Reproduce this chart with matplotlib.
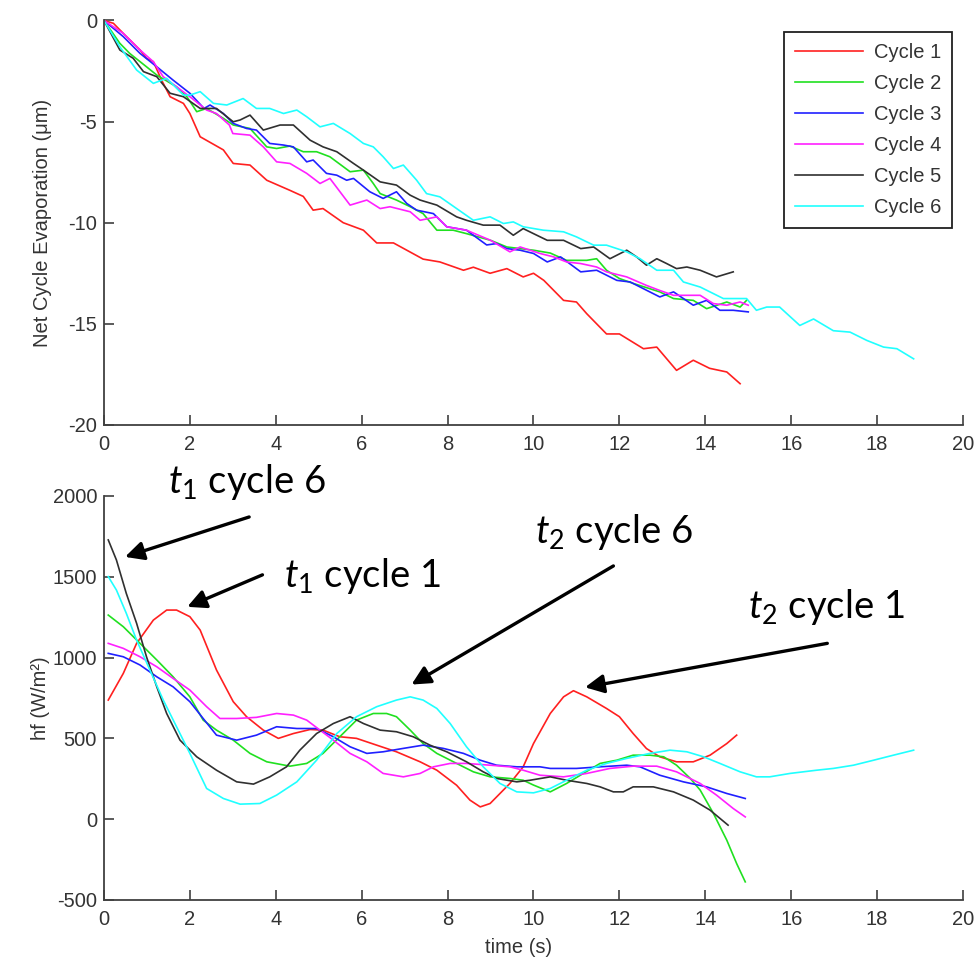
"""Net cycle evaporation and heat flux for six cycles (two stacked panels)."""

import matplotlib

matplotlib.use("Agg")
import matplotlib.pyplot as plt

plt.rcParams["font.family"] = ["Liberation Sans", "DejaVu Sans"]
plt.rcParams["axes.unicode_minus"] = False
plt.rcParams["mathtext.fontset"] = "custom"
plt.rcParams["mathtext.rm"] = "Lato"
plt.rcParams["mathtext.it"] = "Lato:italic"

labels = ["Cycle 1", "Cycle 2", "Cycle 3", "Cycle 4", "Cycle 5", "Cycle 6"]
colors = ["#ff2020", "#20e020", "#2020ff", "#ff20ff", "#303030", "#20ffff"]

# --- top panel: net cycle evaporation (um) vs time (s) ---
t_evap_c1 = [0, 0.22, 0.45, 0.84, 0.99, 1.15, 1.34, 1.54, 1.85, 2.0, 2.24, 2.78, 3.01, 3.4, 3.79,
             4.33, 4.64, 4.87, 5.1, 5.57, 6.04, 6.35, 6.74, 7.43, 7.82, 8.37, 8.6, 8.99, 9.38,
             9.76, 10.0, 10.24, 10.7, 11.0, 11.24, 11.7, 12.0, 12.56, 12.87, 13.33, 13.72,
             14.1, 14.5, 14.81]
evap_c1 = [0, -0.14, -0.64, -1.46, -1.87, -2.04, -2.94, -3.77, -4.1, -4.6, -5.75, -6.4, -7.07,
           -7.15, -7.9, -8.4, -8.7, -9.38, -9.3, -10.0, -10.37, -11.0, -11.0, -11.8, -11.94,
           -12.35, -12.2, -12.5, -12.27, -12.68, -12.5, -12.85, -13.84, -13.92, -14.5, -15.5,
           -15.5, -16.23, -16.15, -17.3, -16.8, -17.2, -17.38, -17.96]

t_evap_c2 = [0, 0.37, 0.6, 0.99, 1.23, 1.69, 1.93, 2.16, 2.39, 2.78, 3.01, 3.4, 3.79, 4.02, 4.33,
             4.64, 4.95, 5.26, 5.73, 6.04, 6.27, 6.43, 6.81, 7.13, 7.43, 7.75, 8.13, 8.44, 9.0,
             9.38, 9.69, 10.0, 10.39, 10.77, 11.24, 11.47, 11.7, 12.0, 12.32, 12.94, 13.26,
             13.72, 14.03, 14.5, 14.81, 14.96]
evap_c2 = [0, -1.13, -1.63, -2.29, -2.7, -3.28, -3.77, -4.51, -4.35, -4.84, -5.17, -5.34, -6.25,
           -6.33, -6.21, -6.49, -6.49, -6.74, -7.48, -7.4, -8.06, -8.56, -8.88, -9.21, -9.55,
           -10.37, -10.37, -10.54, -10.87, -11.2, -11.28, -11.36, -11.5, -11.86, -11.86,
           -11.78, -12.35, -12.76, -13.0, -13.42, -13.75, -13.84, -14.25, -13.92, -14.17, -13.84]

t_evap_c3 = [0, 0.45, 0.84, 1.23, 1.61, 2.0, 2.33, 2.47, 2.78, 3.01, 3.32, 3.55, 3.86, 4.18, 4.41,
             4.72, 4.87, 5.18, 5.42, 5.65, 5.81, 6.19, 6.5, 6.81, 7.05, 7.28, 7.67, 7.98, 8.44,
             8.91, 9.14, 9.38, 9.69, 10.0, 10.32, 10.63, 11.1, 11.47, 11.94, 12.25, 12.94, 13.26,
             13.72, 14.03, 14.34, 14.65, 15.0]
evap_c3 = [0, -0.8, -1.63, -2.29, -2.95, -3.6, -4.35, -4.18, -4.6, -5.09, -5.34, -5.42, -6.08,
           -6.16, -6.25, -6.99, -6.9, -7.56, -7.65, -7.9, -7.81, -8.47, -8.8, -8.47, -9.05,
           -9.38, -9.55, -10.2, -10.37, -11.1, -11.03, -11.28, -11.36, -11.52, -11.94, -11.69,
           -12.43, -12.35, -12.85, -12.93, -13.67, -13.42, -14.08, -13.84, -14.33, -14.33, -14.41]

t_evap_c4 = [0, 0.45, 0.84, 1.15, 1.38, 1.69, 2.0, 2.39, 2.62, 2.92, 3.0, 3.4, 3.71, 4.02, 4.33,
             4.72, 5.03, 5.26, 5.73, 6.12, 6.43, 6.66, 7.13, 7.36, 7.75, 7.98, 8.44, 9.0, 9.45,
             9.69, 10.15, 10.47, 10.77, 11.1, 11.47, 11.7, 12.17, 12.63, 12.94, 13.26, 13.57,
             13.88, 14.19, 14.5, 14.81, 15.0]
evap_c4 = [0, -0.64, -1.46, -2.04, -2.78, -3.28, -3.77, -4.43, -4.6, -5.17, -5.59, -5.67, -6.25,
           -6.99, -7.07, -7.56, -8.06, -7.81, -9.13, -8.88, -9.3, -9.21, -9.46, -9.88, -9.71,
           -10.2, -10.37, -10.87, -11.44, -11.2, -11.52, -11.69, -11.94, -12.02, -12.19, -12.43,
           -12.68, -13.1, -13.35, -13.59, -13.59, -13.59, -14.0, -14.08, -13.92, -14.08]

t_evap_c5 = [0, 0.37, 0.68, 0.92, 1.23, 1.54, 1.85, 2.24, 2.62, 3.01, 3.17, 3.4, 3.71, 4.1, 4.41,
             4.8, 5.1, 5.42, 5.81, 6.04, 6.43, 6.81, 7.13, 7.36, 7.75, 8.21, 8.44, 8.83, 9.22,
             9.53, 9.76, 10.0, 10.32, 10.7, 11.1, 11.4, 11.78, 12.17, 12.4, 12.63, 12.87, 13.1,
             13.33, 13.57, 13.88, 14.26, 14.65]
evap_c5 = [0, -1.46, -1.87, -2.53, -2.78, -3.6, -3.77, -4.35, -4.35, -5.01, -4.92, -4.68, -5.42,
           -5.17, -5.17, -5.92, -6.25, -6.49, -7.07, -7.4, -7.98, -8.14, -8.64, -8.88, -9.13,
           -9.71, -9.88, -10.12, -10.12, -10.62, -10.29, -10.54, -10.87, -10.87, -11.28, -11.2,
           -11.78, -11.36, -11.69, -12.1, -11.78, -12.02, -12.27, -12.19, -12.35, -12.68, -12.43]

t_evap_c6 = [0, 0.37, 0.76, 1.15, 1.46, 1.85, 2.0, 2.24, 2.55, 2.86, 3.24, 3.55, 3.86, 4.18, 4.49,
             4.72, 5.03, 5.34, 5.73, 6.04, 6.27, 6.5, 6.74, 6.97, 7.28, 7.51, 7.82, 8.21, 8.6,
             8.99, 9.3, 9.53, 9.76, 10.23, 10.7, 11.0, 11.4, 11.7, 12.17, 12.48, 12.87, 13.26,
             13.49, 13.88, 14.42, 14.96, 15.19, 15.43, 15.73, 16.2, 16.52, 16.98, 17.37, 17.76,
             18.15, 18.46, 18.85]
evap_c6 = [0, -1.3, -2.45, -3.11, -2.86, -3.69, -3.69, -3.52, -4.1, -4.18, -3.86, -4.35, -4.35,
           -4.6, -4.43, -4.76, -5.26, -5.09, -5.59, -6.08, -6.25, -6.74, -7.32, -7.15, -7.9,
           -8.56, -8.72, -9.3, -9.88, -9.71, -10.04, -9.96, -10.2, -10.37, -10.45, -10.7,
           -11.11, -11.11, -11.44, -11.78, -12.35, -12.35, -12.93, -13.18, -13.75, -13.75,
           -14.33, -14.17, -14.17, -15.08, -14.76, -15.34, -15.41, -15.82, -16.15, -16.23, -16.73]

# --- bottom panel: heat flux hf (W/m2) vs time (s) ---
t_hf_c1 = [0.1, 0.45, 0.76, 1.15, 1.46, 1.69, 2.0, 2.24, 2.62, 3.01, 3.32, 3.71, 4.06, 4.41, 4.8,
           5.1, 5.49, 5.88, 6.35, 6.81, 7.36, 7.75, 8.21, 8.52, 8.76, 8.99, 9.45, 9.76, 10.0,
           10.39, 10.7, 10.93, 11.24, 11.7, 12.0, 12.32, 12.63, 12.94, 13.33, 13.72, 14.11,
           14.5, 14.73]
hf_c1 = [737, 902, 1088, 1232, 1294, 1294, 1253, 1170, 923, 727, 634, 551, 500, 530, 555, 551,
         510, 500, 458, 417, 355, 303, 210, 118, 76, 97, 221, 324, 468, 654, 757, 795, 757, 685,
         634, 530, 437, 386, 355, 355, 396, 468, 520]

t_hf_c2 = [0.1, 0.45, 0.84, 1.23, 1.61, 2.0, 2.31, 2.62, 3.01, 3.4, 3.79, 4.33, 4.72, 5.1, 5.49,
           5.88, 6.27, 6.58, 6.81, 7.13, 7.43, 7.75, 8.21, 8.6, 8.99, 9.45, 9.76, 10.0, 10.39,
           10.77, 11.16, 11.55, 11.94, 12.32, 12.71, 13.03, 13.33, 13.65, 13.88, 14.19, 14.5,
           14.73, 14.93]
hf_c2 = [1263, 1191, 1088, 985, 881, 757, 613, 551, 489, 407, 355, 328, 345, 407, 510, 613, 654,
         654, 634, 551, 468, 407, 345, 293, 262, 252, 241, 211, 169, 221, 283, 345, 365, 396,
         396, 386, 334, 252, 180, 35, -130, -275, -388]

t_hf_c3 = [0.1, 0.45, 0.84, 1.23, 1.61, 2.0, 2.31, 2.62, 3.09, 3.55, 4.02, 4.49, 4.95, 5.34, 5.73,
           6.12, 6.5, 6.97, 7.43, 7.9, 8.37, 8.76, 9.14, 9.61, 10.15, 10.39, 11.0, 11.55, 12.17,
           12.48, 12.94, 13.49, 14.03, 14.5, 14.93]
hf_c3 = [1026, 1005, 954, 881, 819, 727, 623, 520, 489, 520, 572, 561, 561, 510, 448, 407, 417,
         438, 458, 438, 407, 365, 334, 324, 324, 314, 314, 324, 334, 324, 272, 231, 200, 159, 128]

t_hf_c4 = [0.1, 0.45, 0.84, 1.23, 1.61, 2.0, 2.39, 2.7, 3.09, 3.55, 4.02, 4.41, 4.72, 5.03, 5.34,
           5.73, 6.12, 6.5, 6.97, 7.36, 7.67, 8.06, 8.44, 8.99, 9.45, 9.76, 10.15, 10.7, 11.24,
           11.78, 12.32, 12.87, 13.33, 13.88, 14.26, 14.65, 14.93]
hf_c4 = [1088, 1057, 1005, 943, 871, 799, 696, 623, 623, 630, 654, 644, 613, 551, 489, 407, 355,
         283, 262, 283, 324, 345, 345, 334, 324, 303, 272, 262, 283, 314, 328, 328, 293, 221,
         149, 66, 14]

t_hf_c5 = [0.1, 0.29, 0.52, 0.76, 0.99, 1.23, 1.46, 1.77, 2.16, 2.62, 3.09, 3.48, 3.86, 4.25, 4.56,
           4.95, 5.34, 5.73, 6.04, 6.43, 6.81, 7.2, 7.59, 7.98, 8.44, 8.83, 9.14, 9.61, 9.92,
           10.39, 10.77, 11.24, 11.55, 11.86, 12.09, 12.32, 12.79, 13.26, 13.72, 14.11, 14.53]
hf_c5 = [1728, 1604, 1397, 1212, 1005, 819, 654, 489, 386, 303, 231, 217, 262, 324, 427, 530, 592,
         634, 592, 551, 541, 510, 458, 417, 355, 293, 252, 231, 241, 262, 241, 221, 200, 169,
         169, 200, 200, 169, 118, 56, -37]

t_hf_c6 = [0.1, 0.29, 0.52, 0.76, 1.07, 1.38, 1.69, 2.0, 2.39, 2.78, 3.17, 3.63, 4.02, 4.49, 4.95,
           5.42, 5.88, 6.35, 6.81, 7.13, 7.43, 7.75, 8.06, 8.44, 8.83, 9.22, 9.61, 10.0, 10.39,
           10.77, 11.24, 11.7, 12.17, 12.71, 13.18, 13.57, 13.96, 14.34, 14.81, 15.19, 15.5,
           15.97, 16.59, 16.98, 17.45, 17.92, 18.38, 18.85]
hf_c6 = [1501, 1418, 1274, 1108, 923, 737, 572, 407, 190, 128, 93, 97, 149, 231, 365, 530, 634,
         696, 737, 757, 737, 685, 592, 448, 324, 221, 169, 163, 190, 241, 303, 345, 376, 407,
         427, 417, 386, 345, 293, 262, 262, 283, 303, 314, 334, 365, 396, 427]

evap_series = [(t_evap_c1, evap_c1), (t_evap_c2, evap_c2), (t_evap_c3, evap_c3),
               (t_evap_c4, evap_c4), (t_evap_c5, evap_c5), (t_evap_c6, evap_c6)]
hf_series = [(t_hf_c1, hf_c1), (t_hf_c2, hf_c2), (t_hf_c3, hf_c3),
             (t_hf_c4, hf_c4), (t_hf_c5, hf_c5), (t_hf_c6, hf_c6)]

# annotations: (text, text pos, arrow tail, arrow head) in data coords of bottom axes
notes = [
    (r"$\mathit{t}_{\mathit{1}}$ cycle 6", (1.5, 2018), (3.38, 1870), (0.49, 1623)),
    (r"$\mathit{t}_{\mathit{1}}$ cycle 1", (4.18, 1438), (3.69, 1512), (1.94, 1314)),
    (r"$\mathit{t}_{\mathit{2}}$ cycle 6", (10.04, 1711), (11.86, 1567), (7.16, 833)),
    (r"$\mathit{t}_{\mathit{2}}$ cycle 1", (15.0, 1245), (16.84, 1088), (11.2, 816)),
]

SPINE = "#404040"
TXT = "#333333"
FS = 14.5


def style_axes(ax):
    for side in ("top", "right"):
        ax.spines[side].set_visible(False)
    for side in ("left", "bottom"):
        ax.spines[side].set_color(SPINE)
        ax.spines[side].set_linewidth(1.3)
    ax.tick_params(direction="in", length=7.5, width=1.2, color=SPINE,
                   labelsize=FS, labelcolor=TXT, pad=5)
    ax.tick_params(axis="x", pad=7)
    ax.set_xlim(0, 20)
    ax.set_xticks(range(0, 21, 2))


fig = plt.figure(figsize=(9.78, 9.61), dpi=100)
ax1 = fig.add_axes([0.1063, 0.5578, 0.8784, 0.4209])
ax2 = fig.add_axes([0.1063, 0.0635, 0.8784, 0.4204])

for (t, y), c, lab in zip(evap_series, colors, labels):
    ax1.plot(t, y, color=c, lw=1.2, label=lab)
style_axes(ax1)
ax1.set_ylim(-20, 0)
ax1.set_yticks([-20, -15, -10, -5, 0])
ax1.set_ylabel("Net Cycle Evaporation (μm)", fontsize=FS, color=TXT)
ax1.yaxis.set_label_coords(-0.06, 0.5)
leg = ax1.legend(loc="upper right", fontsize=FS, frameon=True, fancybox=False,
                 edgecolor="#202020", framealpha=1, handlelength=3.4, handletextpad=0.5,
                 labelspacing=0.6, borderaxespad=0.55, borderpad=0.55)
leg.get_frame().set_linewidth(1.3)
for txt in leg.get_texts():
    txt.set_color(TXT)

for (t, y), c in zip(hf_series, colors):
    ax2.plot(t, y, color=c, lw=1.2)
style_axes(ax2)
ax2.set_ylim(-500, 2000)
ax2.set_yticks(range(-500, 2001, 500))
ax2.set_ylabel("hf (W/m²)", fontsize=FS, color=TXT)
ax2.yaxis.set_label_coords(-0.063, 0.5)
ax2.set_xlabel("time (s)", fontsize=FS, color=TXT)
ax2.xaxis.set_label_coords(0.483, -0.095)

for text, tpos, tail, head in notes:
    ax2.text(tpos[0], tpos[1], text, fontsize=27.5, family="Lato", color="black",
             ha="left", va="baseline", clip_on=False)
    ax2.annotate("", xy=head, xytext=tail, annotation_clip=False,
                 arrowprops=dict(arrowstyle="-|>", color="black", lw=2.4,
                                 mutation_scale=28, shrinkA=0, shrinkB=0))

fig.savefig("out.png", dpi=100)
